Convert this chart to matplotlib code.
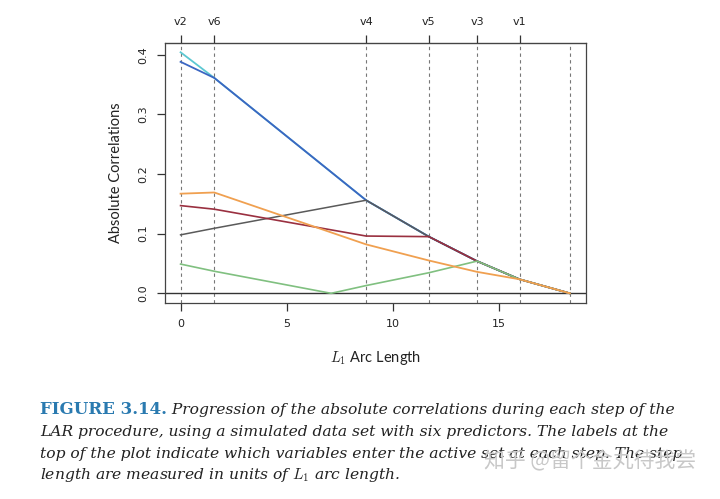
import matplotlib
matplotlib.use('Agg')
import matplotlib.pyplot as plt
import numpy as np

# LAR step positions (L1 arc length) and the variable entering at each step
steps = [0.0, 1.59, 8.75, 11.71, 13.98, 15.99, 18.36]
step_labels = ['v2', 'v6', 'v4', 'v5', 'v3', 'v1']

# absolute correlations
blue_x = [0.0, 1.59, 8.75, 11.71, 13.98, 15.99, 18.36]
blue_y = [0.388, 0.361, 0.156, 0.095, 0.054, 0.0235, 0.0]
cyan_x = [0.0, 1.59, 8.75, 11.71, 13.98, 15.99, 18.36]
cyan_y = [0.404, 0.361, 0.156, 0.095, 0.054, 0.0235, 0.0]
gray_x = [0.0, 1.59, 8.75, 11.71, 13.98, 15.99, 18.36]
gray_y = [0.098, 0.109, 0.156, 0.095, 0.054, 0.0235, 0.0]
red_x = [0.0, 1.59, 8.75, 11.71, 13.98, 15.99, 18.36]
red_y = [0.147, 0.141, 0.096, 0.095, 0.054, 0.0235, 0.0]
green_x = [0.0, 1.59, 7.1, 8.75, 11.71, 13.98, 15.99, 18.36]
green_y = [0.049, 0.037, 0.0, 0.013, 0.0345, 0.054, 0.0235, 0.0]
orange_x = [0.0, 1.59, 8.75, 11.71, 13.98, 15.99, 18.36]
orange_y = [0.167, 0.169, 0.082, 0.055, 0.036, 0.0235, 0.0]

caption_head = 'FIGURE 3.14.'
caption_lines = [
    ' Progression of the absolute correlations during each step of the',
    'LAR procedure, using a simulated data set with six predictors. The labels at the',
    'top of the plot indicate which variables enter the active set at each step. The step',
    r'length are measured in units of $L_1$ arc length.',
]
watermark = '知乎 @留个金丸待我尝'

plt.rcParams['mathtext.fontset'] = 'cm'

fig = plt.figure(figsize=(7.2, 4.99), dpi=100)
ax = fig.add_axes([0.229, 0.3934, 0.5843, 0.521])

for s in steps:
    ax.axvline(s, color='#777777', lw=0.8, ls=(0, (3, 3)), zorder=1)
ax.axhline(0, color='#333333', lw=1.0, zorder=1)

ax.plot(cyan_x, cyan_y, color='#5cc8d2', lw=1.3, zorder=2)
ax.plot(blue_x, blue_y, color='#3b66c2', lw=1.3, zorder=3)
ax.plot(gray_x, gray_y, color='#5a5a5a', lw=1.1, zorder=4)
ax.plot(red_x, red_y, color='#9a3040', lw=1.2, zorder=5)
ax.plot(green_x, green_y, color='#80c080', lw=1.2, zorder=6)
ax.plot(orange_x, orange_y, color='#f0a050', lw=1.3, zorder=7)

ax.set_xlim(-0.74, 19.1)
ax.set_ylim(-0.0157, 0.42)
ax.set_xticks([0, 5, 10, 15])
ax.set_yticks([0.0, 0.1, 0.2, 0.3, 0.4])
ax.set_yticklabels(['0.0', '0.1', '0.2', '0.3', '0.4'], rotation=90, va='center')
ax.tick_params(direction='out', length=6, width=0.9, colors='#333333', labelsize=8,
               labelcolor='#222222', pad=6)
for sp in ax.spines.values():
    sp.set_color('#444444')
    sp.set_linewidth(0.9)

top = ax.secondary_xaxis('top')
top.set_xticks(steps[:-1])
top.set_xticklabels(step_labels)
top.tick_params(direction='out', length=6, width=0.9, colors='#333333', labelsize=8,
                labelcolor='#222222', pad=5)

ax.set_xlabel(r'$L_1$ Arc Length', fontsize=10.5, family='Lato', color='#222222', labelpad=14)
ax.set_ylabel('Absolute Correlations', fontsize=10.5, family='Lato', color='#222222', labelpad=11)

# caption
fs = 11.15
y0 = 1 - 414 / 499
dy = 21.8 / 499
head = fig.text(40 / 720, y0, caption_head, fontsize=12.0, family='DejaVu Serif',
                weight='bold', color='#2a7ab0', va='baseline')
fig.canvas.draw()
bb = head.get_window_extent()
fig.text(bb.x1 / 720, y0, caption_lines[0], fontsize=fs, family='DejaVu Serif',
         style='italic', color='#222222', va='baseline')
for i, line in enumerate(caption_lines[1:], start=1):
    fig.text(40 / 720, y0 - i * dy, line, fontsize=fs, family='DejaVu Serif',
             style='italic', color='#222222', va='baseline')

fig.text(484 / 720, 1 - 467 / 499, watermark, fontsize=15, family='Noto Sans CJK SC',
         color='#c8c8c8', va='baseline')

fig.savefig('out.png', dpi=100)
